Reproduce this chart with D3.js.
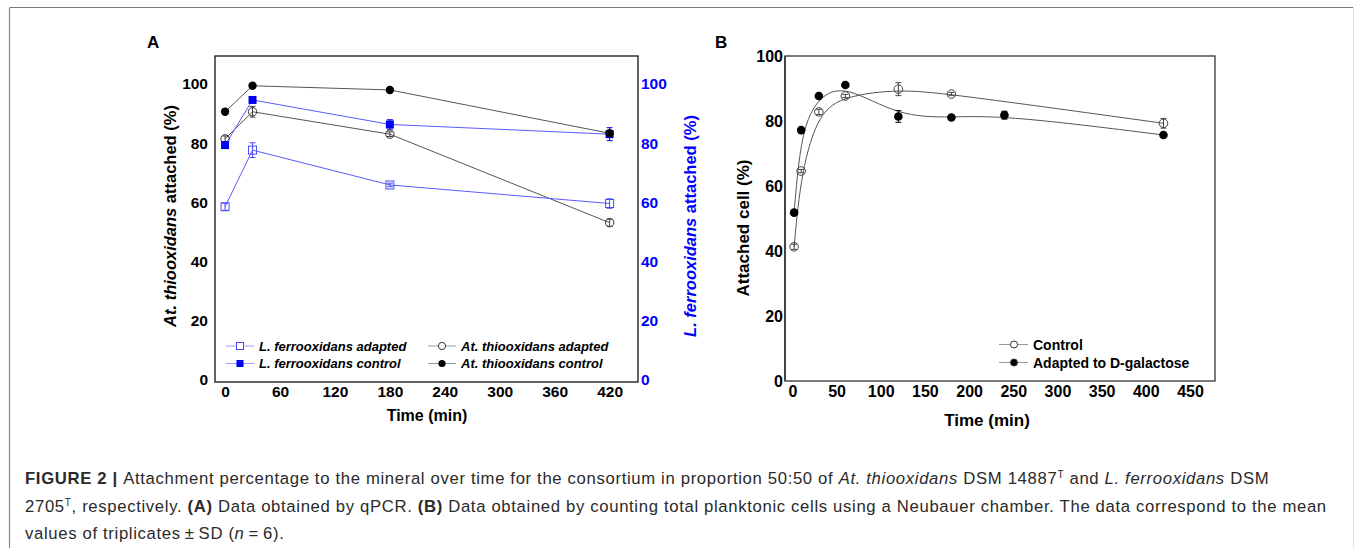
<!DOCTYPE html>
<html>
<head>
<meta charset="utf-8">
<title>Figure 2</title>
<script src="https://cdn.jsdelivr.net/npm/d3@7"></script>
<style>
body { margin: 0; background: #fff; }
svg text { font-family: "Liberation Sans", Arial, sans-serif; }
svg text.cap { letter-spacing: 0.66px; }
</style>
</head>
<body>
<svg id="fig" width="1355" height="548"></svg>
<script>
// ---- panel A data (qPCR) ----
var timesA = [0, 30, 180, 420];
var atControl = [90.6, 99.4, 98.0, 83.3];
var atControlErr = [0.5, 0.5, 0.6, 0.8];
var atAdapted = [81.4, 90.6, 83.0, 53.0];
var atAdaptedErr = [1.0, 1.8, 0.8, 1.2];
var lfControl = [79.3, 94.6, 86.3, 83.0];
var lfControlErr = [0.8, 0.8, 1.6, 2.2];
var lfAdapted = [58.4, 77.6, 65.8, 59.5];
var lfAdaptedErr = [1.2, 2.5, 0.6, 1.6];
var ticksAx = [0, 60, 120, 180, 240, 300, 360, 420];
var ticksAy = [0, 20, 40, 60, 80, 100];

// ---- panel B data (Neubauer counts) ----
var timesBControl = [2, 10, 30, 60, 120, 180, 420];
var bControl = [41.3, 64.6, 82.8, 87.7, 89.8, 88.3, 79.3];
var bControlErr = [0.8, 0.5, 0.8, 0.5, 2.0, 0.5, 1.5];
var timesBAdapted = [2, 10, 30, 60, 120, 180, 240, 420];
var bAdapted = [51.8, 77.2, 87.7, 91.1, 81.4, 81.1, 81.8, 75.7];
var bAdaptedErr = [0.5, 0.5, 0.5, 0.5, 1.8, 0.5, 1.2, 0.5];
var ticksBx = [0, 50, 100, 150, 200, 250, 300, 350, 400, 450];
var ticksBy = [0, 20, 40, 60, 80, 100];

var svg = d3.select("#fig");

// outer frame
svg.append("line").attr("x1", 9.5).attr("y1", 7.5).attr("x2", 1353).attr("y2", 7.5)
    .attr("stroke", "#777").attr("stroke-width", 1.2);
svg.append("line").attr("x1", 9.5).attr("y1", 7.5).attr("x2", 9.5).attr("y2", 548)
    .attr("stroke", "#888").attr("stroke-width", 1.2);
svg.append("line").attr("x1", 1353.5).attr("y1", 7.5).attr("x2", 1353.5).attr("y2", 548)
    .attr("stroke", "#ddd").attr("stroke-width", 1);

function errBars(g, xs, ys, es, x, y, color) {
  var d = xs.map(function(t, i) { return {t: t, v: ys[i], e: es[i]}; });
  var eg = g.append("g").attr("stroke", color).attr("stroke-width", 1);
  d.forEach(function(p) {
    var cx = x(p.t);
    eg.append("line").attr("x1", cx).attr("x2", cx).attr("y1", y(p.v - p.e)).attr("y2", y(p.v + p.e));
    eg.append("line").attr("x1", cx - 3).attr("x2", cx + 3).attr("y1", y(p.v - p.e)).attr("y2", y(p.v - p.e));
    eg.append("line").attr("x1", cx - 3).attr("x2", cx + 3).attr("y1", y(p.v + p.e)).attr("y2", y(p.v + p.e));
  });
}

function styleTicks(g, size, color) {
  g.select(".domain").remove();
  g.selectAll("text").attr("font-size", size).attr("font-weight", "bold").attr("fill", color);
}

// ================= panel A =================
var xA = d3.scaleLinear().domain([-11, 451]).range([215, 638]);
var yA = d3.scaleLinear().domain([-1, 109.5]).range([382, 56]);

var gA = svg.append("g");

gA.append("g").attr("transform", "translate(0,382)")
  .call(d3.axisBottom(xA).tickValues(ticksAx).tickSize(0).tickPadding(4))
  .call(styleTicks, 15.5, "#000");
gA.append("g").attr("transform", "translate(215,0)")
  .call(d3.axisLeft(yA).tickValues(ticksAy).tickSize(0).tickPadding(7))
  .call(styleTicks, 15.5, "#000");
gA.append("g").attr("transform", "translate(638,0)")
  .call(d3.axisRight(yA).tickValues(ticksAy).tickSize(0).tickPadding(3))
  .call(styleTicks, 15.5, "#0000ff");

gA.append("rect").attr("x", 215).attr("y", 56).attr("width", 423).attr("height", 326)
  .attr("fill", "none").attr("stroke", "#111").attr("stroke-width", 1.3);

var lineA = function(xs) {
  return d3.line().x(function(d, i) { return xA(xs[i]); }).y(function(d) { return yA(d); });
};

// lines
gA.append("path").attr("d", lineA(timesA)(atControl)).attr("fill", "none").attr("stroke", "#555").attr("stroke-width", 1);
gA.append("path").attr("d", lineA(timesA)(atAdapted)).attr("fill", "none").attr("stroke", "#555").attr("stroke-width", 1);
gA.append("path").attr("d", lineA(timesA)(lfControl)).attr("fill", "none").attr("stroke", "#5a5aff").attr("stroke-width", 1);
gA.append("path").attr("d", lineA(timesA)(lfAdapted)).attr("fill", "none").attr("stroke", "#5a5aff").attr("stroke-width", 1);

errBars(gA, timesA, atAdapted, atAdaptedErr, xA, yA, "#444");
errBars(gA, timesA, lfAdapted, lfAdaptedErr, xA, yA, "#4a4aff");
errBars(gA, timesA, lfControl, lfControlErr, xA, yA, "#0000ee");
errBars(gA, timesA, atControl, atControlErr, xA, yA, "#000");

// markers
gA.selectAll(".lfa").data(lfAdapted).enter().append("rect")
  .attr("x", function(d, i) { return xA(timesA[i]) - 4; }).attr("y", function(d) { return yA(d) - 4; })
  .attr("width", 8).attr("height", 8).attr("fill", "none").attr("stroke", "#4a4aff").attr("stroke-width", 1);
gA.selectAll(".ata").data(atAdapted).enter().append("circle")
  .attr("cx", function(d, i) { return xA(timesA[i]); }).attr("cy", function(d) { return yA(d); })
  .attr("r", 4.2).attr("fill", "none").attr("stroke", "#333").attr("stroke-width", 1);
gA.selectAll(".lfc").data(lfControl).enter().append("rect")
  .attr("x", function(d, i) { return xA(timesA[i]) - 4; }).attr("y", function(d) { return yA(d) - 4; })
  .attr("width", 8).attr("height", 8).attr("fill", "#0000ee");
gA.selectAll(".atc").data(atControl).enter().append("circle")
  .attr("cx", function(d, i) { return xA(timesA[i]); }).attr("cy", function(d) { return yA(d); })
  .attr("r", 4.2).attr("fill", "#000");

// legend A
var legA = [
  {x: 226, y: 346, text: "L. ferrooxidans adapted", line: "#9a9aff", mark: "sqOpen"},
  {x: 226, y: 363.5, text: "L. ferrooxidans control", line: "#9a9aff", mark: "sqFill"},
  {x: 428, y: 346, text: "At. thiooxidans adapted", line: "#999", mark: "ciOpen"},
  {x: 428, y: 363.5, text: "At. thiooxidans control", line: "#999", mark: "ciFill"}
];
legA.forEach(function(l) {
  gA.append("line").attr("x1", l.x).attr("x2", l.x + 28).attr("y1", l.y).attr("y2", l.y)
    .attr("stroke", l.line).attr("stroke-width", 1);
  var cx = l.x + 14;
  if (l.mark === "sqOpen") gA.append("rect").attr("x", cx - 3.5).attr("y", l.y - 3.5).attr("width", 7).attr("height", 7).attr("fill", "#fff").attr("stroke", "#4a4aff");
  if (l.mark === "sqFill") gA.append("rect").attr("x", cx - 3.5).attr("y", l.y - 3.5).attr("width", 7).attr("height", 7).attr("fill", "#0000ee");
  if (l.mark === "ciOpen") gA.append("circle").attr("cx", cx).attr("cy", l.y).attr("r", 3.6).attr("fill", "#fff").attr("stroke", "#333");
  if (l.mark === "ciFill") gA.append("circle").attr("cx", cx).attr("cy", l.y).attr("r", 3.6).attr("fill", "#000");
  gA.append("text").attr("x", l.x + 33).attr("y", l.y + 4.5).attr("font-size", 13)
    .attr("font-weight", "bold").attr("font-style", "italic").text(l.text);
});

// axis titles A
gA.append("text").attr("x", 427).attr("y", 421).attr("text-anchor", "middle")
  .attr("font-size", 16).attr("font-weight", "bold").text("Time (min)");
var tl = gA.append("text").attr("transform", "translate(176,216) rotate(-90)")
  .attr("text-anchor", "middle").attr("font-size", 16.5).attr("font-weight", "bold");
tl.append("tspan").attr("font-style", "italic").text("At. thiooxidans");
tl.append("tspan").text(" attached (%)");
var tr = gA.append("text").attr("transform", "translate(696,226) rotate(-90)")
  .attr("text-anchor", "middle").attr("font-size", 16.5).attr("font-weight", "bold").attr("fill", "#0000ff");
tr.append("tspan").attr("font-style", "italic").text("L. ferrooxidans");
tr.append("tspan").text(" attached (%)");

svg.append("text").attr("x", 147).attr("y", 48).attr("font-size", 17).attr("font-weight", "bold").text("A");

// ================= panel B =================
var xB = d3.scaleLinear().domain([-8.3, 478.3]).range([785, 1215]);
var yB = d3.scaleLinear().domain([0, 100]).range([381, 56]);
var gB = svg.append("g");

gB.append("g").attr("transform", "translate(0,381)")
  .call(d3.axisBottom(xB).tickValues(ticksBx).tickSize(0).tickPadding(5))
  .call(styleTicks, 16, "#000");
gB.append("g").attr("transform", "translate(785,0)")
  .call(d3.axisLeft(yB).tickValues(ticksBy).tickSize(0).tickPadding(2))
  .call(styleTicks, 16, "#000");

gB.append("rect").attr("x", 785).attr("y", 56).attr("width", 430).attr("height", 325)
  .attr("fill", "none").attr("stroke", "#333").attr("stroke-width", 1.3);
gB.append("line").attr("x1", 785).attr("x2", 785).attr("y1", 56).attr("y2", 381)
  .attr("stroke", "#444").attr("stroke-width", 2);

var curveB = function(xs) {
  return d3.line().curve(d3.curveBasis)
    .x(function(d, i) { return xB(xs[i]); }).y(function(d) { return yB(d); });
};
gB.append("path").attr("d", curveB(timesBControl)(bControl)).attr("fill", "none").attr("stroke", "#555").attr("stroke-width", 1);
gB.append("path").attr("d", curveB(timesBAdapted)(bAdapted)).attr("fill", "none").attr("stroke", "#555").attr("stroke-width", 1);

errBars(gB, timesBControl, bControl, bControlErr, xB, yB, "#444");
errBars(gB, timesBAdapted, bAdapted, bAdaptedErr, xB, yB, "#000");

gB.selectAll(".bc").data(bControl).enter().append("circle")
  .attr("cx", function(d, i) { return xB(timesBControl[i]); }).attr("cy", function(d) { return yB(d); })
  .attr("r", 4.3).attr("fill", "#fff").attr("fill-opacity", 0).attr("stroke", "#444").attr("stroke-width", 1);
gB.selectAll(".ba").data(bAdapted).enter().append("circle")
  .attr("cx", function(d, i) { return xB(timesBAdapted[i]); }).attr("cy", function(d) { return yB(d); })
  .attr("r", 4.3).attr("fill", "#000");

// legend B
var legB = [
  {y: 344.5, text: "Control", fill: "#fff"},
  {y: 362.5, text: "Adapted to D-galactose", fill: "#000"}
];
legB.forEach(function(l) {
  gB.append("line").attr("x1", 999).attr("x2", 1028).attr("y1", l.y).attr("y2", l.y)
    .attr("stroke", "#999").attr("stroke-width", 1);
  gB.append("circle").attr("cx", 1014).attr("cy", l.y).attr("r", 3.5).attr("fill", l.fill).attr("stroke", "#333");
  gB.append("text").attr("x", 1033).attr("y", l.y + 5).attr("font-size", 14)
    .attr("font-weight", "bold").text(l.text);
});

gB.append("text").attr("x", 987).attr("y", 426).attr("text-anchor", "middle")
  .attr("font-size", 17).attr("font-weight", "bold").text("Time (min)");
gB.append("text").attr("transform", "translate(749,228) rotate(-90)").attr("text-anchor", "middle")
  .attr("font-size", 17).attr("font-weight", "bold").text("Attached cell (%)");

svg.append("text").attr("x", 715).attr("y", 48).attr("font-size", 17).attr("font-weight", "bold").text("B");

// ================= caption =================
var cap = svg.append("g").attr("font-size", 16.7).attr("fill", "#2a2a2a");
function capLine(y, parts) {
  var t = cap.append("text").attr("class", "cap").attr("x", 25).attr("y", y);
  parts.forEach(function(p) {
    var s = t.append("tspan").text(p.t);
    if (p.b) s.attr("font-weight", "bold");
    if (p.i) s.attr("font-style", "italic");
    if (p.sup) s.attr("font-size", 10).attr("dy", -6);
    if (p.down) s.attr("dy", 6);
  });
}
capLine(484, [
  {t: "FIGURE 2 | ", b: true},
  {t: "Attachment percentage to the mineral over time for the consortium in proportion 50:50 of "},
  {t: "At. thiooxidans", i: true},
  {t: " DSM 14887"}, {t: "T", sup: true},
  {t: " and ", down: true},
  {t: "L. ferrooxidans", i: true},
  {t: " DSM"}
]);
capLine(512, [
  {t: "2705"}, {t: "T", sup: true},
  {t: ", respectively. ", down: true},
  {t: "(A)", b: true},
  {t: " Data obtained by qPCR. "},
  {t: "(B)", b: true},
  {t: " Data obtained by counting total planktonic cells using a Neubauer chamber. The data correspond to the mean"}
]);
capLine(539, [
  {t: "values of triplicates\u2009\u00b1\u2009SD ("},
  {t: "n", i: true},
  {t: "\u2009=\u20096)."}
]);
</script>
</body>
</html>
